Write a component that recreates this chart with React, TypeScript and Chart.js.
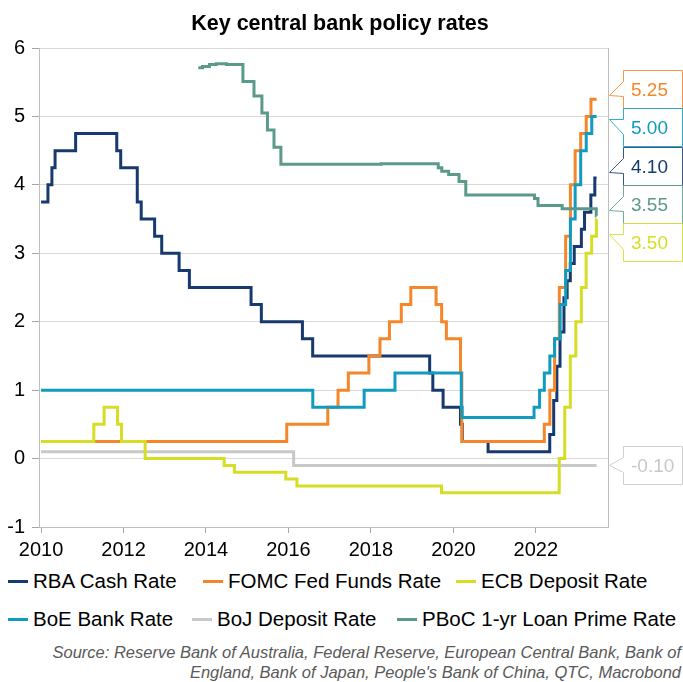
import React, { useEffect, useRef } from "react";
import { Chart, registerables } from "chart.js";

Chart.register(...registerables);

const FONT = "'Liberation Sans', Arial, Helvetica, sans-serif";
const TITLE = "Key central bank policy rates";
const END_DATE = "2023-06-23";

const xTickYears = [2010, 2012, 2014, 2016, 2018, 2020, 2022];
const yTicks = [-1, 0, 1, 2, 3, 4, 5, 6];

const seriesNames = [
  "RBA Cash Rate",
  "FOMC Fed Funds Rate",
  "ECB Deposit Rate",
  "BoE Bank Rate",
  "BoJ Deposit Rate",
  "PBoC 1-yr Loan Prime Rate",
];
const seriesColors = ["#173A6E", "#F5862A", "#D5DE24", "#0F9CC0", "#C8C8C8", "#5B9A8A"];

const rbaDates = [
  "2010-01-01", "2010-03-03", "2010-04-07", "2010-05-05", "2010-11-03", "2011-11-02", "2011-12-07",
  "2012-05-02", "2012-06-06", "2012-10-03", "2012-12-05", "2013-05-08", "2013-08-07", "2015-02-04",
  "2015-05-06", "2016-05-04", "2016-08-03", "2019-06-05", "2019-07-03", "2019-10-02", "2020-03-04",
  "2020-03-20", "2020-11-04", "2022-05-04", "2022-06-08", "2022-07-06", "2022-08-03", "2022-09-07",
  "2022-10-05", "2022-11-02", "2022-12-07", "2023-02-08", "2023-03-08", "2023-05-03", "2023-06-07",
];
const rbaRates = [
  3.75, 4.0, 4.25, 4.5, 4.75, 4.5, 4.25, 3.75, 3.5, 3.25, 3.0, 2.75, 2.5, 2.25, 2.0, 1.75, 1.5, 1.25,
  1.0, 0.75, 0.5, 0.25, 0.1, 0.35, 0.85, 1.35, 1.85, 2.35, 2.6, 2.85, 3.1, 3.35, 3.6, 3.85, 4.1,
];

const fomcDates = [
  "2010-01-01", "2015-12-17", "2016-12-15", "2017-03-16", "2017-06-15", "2017-12-14", "2018-03-22",
  "2018-06-14", "2018-09-27", "2018-12-20", "2019-08-01", "2019-09-19", "2019-10-31", "2020-03-04",
  "2020-03-16", "2022-03-17", "2022-05-05", "2022-06-16", "2022-07-28", "2022-09-22", "2022-11-03",
  "2022-12-15", "2023-02-02", "2023-03-23", "2023-05-04",
];
const fomcRates = [
  0.25, 0.5, 0.75, 1.0, 1.25, 1.5, 1.75, 2.0, 2.25, 2.5, 2.25, 2.0, 1.75, 1.25, 0.25, 0.5, 1.0, 1.75,
  2.5, 3.25, 4.0, 4.5, 4.75, 5.0, 5.25,
];

const ecbDates = [
  "2010-01-01", "2011-04-13", "2011-07-13", "2011-11-09", "2011-12-14", "2012-07-11", "2014-06-11",
  "2014-09-10", "2015-12-09", "2016-03-16", "2019-09-18", "2022-07-27", "2022-09-14", "2022-11-02",
  "2022-12-21", "2023-02-08", "2023-03-22", "2023-05-10", "2023-06-21",
];
const ecbRates = [
  0.25, 0.5, 0.75, 0.5, 0.25, 0.0, -0.1, -0.2, -0.3, -0.4, -0.5, 0.0, 0.75, 1.5, 2.0, 2.5, 3.0, 3.25, 3.5,
];

const boeDates = [
  "2010-01-01", "2016-08-04", "2017-11-02", "2018-08-02", "2020-03-11", "2020-03-19", "2021-12-16",
  "2022-02-03", "2022-03-17", "2022-05-05", "2022-06-16", "2022-08-04", "2022-09-22", "2022-11-03",
  "2022-12-15", "2023-02-02", "2023-03-23", "2023-05-11",
];
const boeRates = [
  1.0, 0.75, 1.0, 1.25, 0.75, 0.6, 0.75, 1.0, 1.25, 1.5, 1.75, 2.25, 2.75, 3.5, 4.0, 4.5, 4.75, 5.0,
];

const bojDates = ["2010-01-01", "2016-02-16"];
const bojRates = [0.1, -0.1];

const pbocDates = [
  "2013-10-25", "2013-12-01", "2014-02-01", "2014-04-01", "2014-07-01", "2014-11-24", "2015-03-02",
  "2015-05-11", "2015-06-29", "2015-08-26", "2015-10-26", "2018-04-01", "2019-08-20", "2019-09-20",
  "2019-11-20", "2020-02-20", "2020-04-20", "2021-12-20", "2022-01-20", "2022-08-22", "2023-06-20",
];
const pbocRates = [
  5.71, 5.73, 5.76, 5.77, 5.76, 5.51, 5.3, 5.05, 4.8, 4.55, 4.3, 4.31, 4.25, 4.2, 4.15, 4.05, 3.85, 3.8,
  3.7, 3.65, 3.55,
];

const allDates = [rbaDates, fomcDates, ecbDates, boeDates, bojDates, pbocDates];
const allRates = [rbaRates, fomcRates, ecbRates, boeRates, bojRates, pbocRates];
const drawOrder = [4, 3, 2, 1, 5, 0]; // lower = on top

function toYear(s: string): number {
  const [y, m, d] = s.split("-").map(Number);
  const start = Date.UTC(y, 0, 1);
  const end = Date.UTC(y + 1, 0, 1);
  return y + (Date.UTC(y, m - 1, d) - start) / (end - start);
}

function buildPoints(dates: string[], rates: number[]) {
  const pts = dates.map((d, i) => ({ x: toYear(d), y: rates[i] }));
  pts.push({ x: toYear(END_DATE), y: rates[rates.length - 1] });
  return pts;
}

const framePlugin = {
  id: "frame",
  beforeDatasetsDraw(chart: any) {
    const { ctx, chartArea } = chart;
    ctx.save();
    ctx.strokeStyle = "#BFBFBF";
    ctx.lineWidth = 1;
    const r = Math.round(chartArea.right) + 0.5;
    ctx.beginPath();
    ctx.moveTo(r, Math.round(chartArea.top));
    ctx.lineTo(r, Math.round(chartArea.bottom) + 1);
    ctx.stroke();
    ctx.restore();
  },
};

const calloutPlugin = {
  id: "callouts",
  afterDraw(chart: any) {
    const { ctx, chartArea, scales } = chart;
    const ys = scales.y;
    const H = 38;
    const items = chart.data.datasets
      .map((ds: any) => {
        const last = ds.data[ds.data.length - 1].y;
        return { value: last, vy: ys.getPixelForValue(last), color: ds.borderColor };
      })
      .sort((a: any, b: any) => a.vy - b.vy);
    let clusters = items.map((it: any) => ({ items: [it], sum: it.vy }));
    let merged = true;
    while (merged) {
      merged = false;
      for (let i = 0; i < clusters.length - 1; i++) {
        const a = clusters[i];
        const b = clusters[i + 1];
        const aTop = a.sum / a.items.length - (a.items.length * H) / 2;
        const bTop = b.sum / b.items.length - (b.items.length * H) / 2;
        if (aTop + a.items.length * H > bTop) {
          clusters.splice(i, 2, { items: [...a.items, ...b.items], sum: a.sum + b.sum });
          merged = true;
          break;
        }
      }
    }
    const L = Math.round(chartArea.right) + 15.5;
    const R = Math.round(chartArea.right) + 74.5;
    const tipX = Math.round(chartArea.right) + 1.5;
    ctx.save();
    ctx.font = `19px ${FONT}`;
    ctx.textBaseline = "middle";
    ctx.textAlign = "left";
    for (const cl of clusters) {
      const n = cl.items.length;
      const top0 = cl.sum / n - (n * H) / 2;
      cl.items.forEach((it: any, k: number) => {
        const top = Math.round(top0 + k * H) + 0.5;
        const bottom = top + H;
        const c = top + H / 2;
        const tipY = Math.min(Math.max(it.vy, c - 8), c + 6);
        ctx.beginPath();
        ctx.moveTo(L, top);
        ctx.lineTo(L, c - 8);
        ctx.lineTo(tipX, tipY);
        ctx.lineTo(L, c + 7);
        ctx.lineTo(L, bottom);
        ctx.lineTo(R, bottom);
        ctx.lineTo(R, top);
        ctx.closePath();
        ctx.fillStyle = "#FFFFFF";
        ctx.fill();
        ctx.globalAlpha = 0.85;
        ctx.strokeStyle = it.color;
        ctx.lineWidth = 1;
        ctx.stroke();
        ctx.globalAlpha = 1;
        ctx.fillStyle = it.color;
        ctx.fillText(it.value.toFixed(2), L + 7.5, c + 1);
      });
    }
    ctx.restore();
  },
};

export default function App() {
  const canvasRef = useRef<HTMLCanvasElement | null>(null);

  useEffect(() => {
    if (!canvasRef.current) return;
    Chart.defaults.font.family = FONT;
    const datasets = seriesNames.map((name, i) => ({
      label: name,
      data: buildPoints(allDates[i], allRates[i]),
      borderColor: seriesColors[i],
      backgroundColor: seriesColors[i],
      borderWidth: 3,
      pointRadius: 0,
      stepped: true,
      fill: false,
      order: drawOrder[i],
    }));
    const chart = new Chart(canvasRef.current, {
      type: "line",
      data: { datasets },
      plugins: [framePlugin, calloutPlugin],
      options: {
        animation: false,
        responsive: false,
        parsing: false as any,
        layout: { padding: { top: 48, right: 75, left: 0, bottom: 0 } },
        plugins: {
          legend: { display: false },
          tooltip: { enabled: false },
          title: { display: false },
        },
        scales: {
          x: {
            type: "linear",
            min: 2009.95,
            max: 2023.75,
            afterBuildTicks: (s: any) => {
              s.ticks = xTickYears.map((v) => ({ value: v }));
            },
            afterFit: (s: any) => {
              s.height = 38;
            },
            ticks: {
              callback: (v: any) => String(v),
              color: "#000",
              font: { size: 20 },
              padding: 5,
              maxRotation: 0,
              autoSkip: false,
            },
            grid: { drawOnChartArea: false, drawTicks: true, tickLength: 6, color: "#A6A6A6" },
            border: { color: "#BFBFBF" },
          },
          y: {
            min: -1,
            max: 6,
            afterBuildTicks: (s: any) => {
              s.ticks = yTicks.map((v) => ({ value: v }));
            },
            afterFit: (s: any) => {
              s.width = 39;
            },
            ticks: { color: "#000", font: { size: 20 }, padding: 7 },
            grid: { color: "#D9D9D9", tickColor: "#A6A6A6", tickLength: 7, drawTicks: true },
            border: { color: "#BFBFBF" },
          },
        },
      } as any,
    });
    return () => chart.destroy();
  }, []);

  const legendPos = [
    { x: 8, y: 581 },
    { x: 203, y: 581 },
    { x: 456, y: 581 },
    { x: 8, y: 619 },
    { x: 192, y: 619 },
    { x: 397, y: 619 },
  ];

  return (
    <div
      style={{
        position: "absolute",
        left: 0,
        top: 0,
        width: 683,
        height: 682,
        background: "#fff",
        fontFamily: FONT,
        overflow: "hidden",
      }}
    >
      <canvas ref={canvasRef} width={683} height={565} style={{ position: "absolute", left: 0, top: 0 }} />
      <div
        style={{
          position: "absolute",
          left: 0,
          width: 680,
          top: 10,
          textAlign: "center",
          fontWeight: "bold",
          fontSize: 21.5,
          lineHeight: "26px",
          color: "#000",
          whiteSpace: "nowrap",
        }}
      >
        {TITLE}
      </div>
      {seriesNames.map((name, i) => (
        <div
          key={name}
          style={{
            position: "absolute",
            left: legendPos[i].x,
            top: legendPos[i].y - 12,
            height: 24,
            display: "flex",
            alignItems: "center",
            whiteSpace: "nowrap",
          }}
        >
          <span style={{ display: "inline-block", width: 20, height: 3, background: seriesColors[i], marginRight: 5 }} />
          <span style={{ fontSize: 20.5, lineHeight: "24px", color: "#000" }}>{name}</span>
        </div>
      ))}
      <div
        style={{
          position: "absolute",
          right: 2,
          top: 642,
          textAlign: "right",
          fontStyle: "italic",
          fontSize: 16.5,
          lineHeight: "20px",
          color: "#595959",
          whiteSpace: "nowrap",
        }}
      >
        Source: Reserve Bank of Australia, Federal Reserve, European Central Bank, Bank of
        <br />
        England, Bank of Japan, People's Bank of China, QTC, Macrobond
      </div>
    </div>
  );
}
